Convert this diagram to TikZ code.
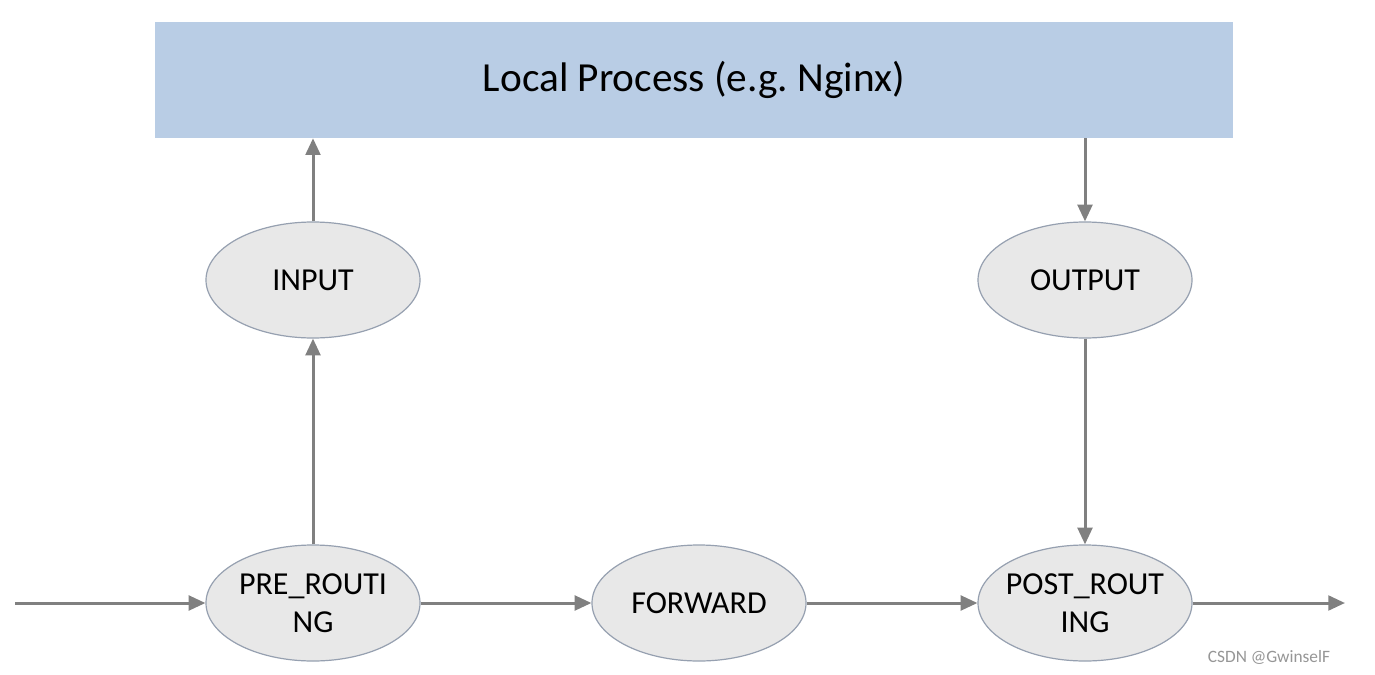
\documentclass[tikz,border=0pt]{standalone}
\usepackage{fontspec}
\setmainfont{Carlito}
\usetikzlibrary{arrows.meta,shapes.geometric}

\definecolor{boxblue}{RGB}{185,205,229}
\definecolor{chainfill}{RGB}{232,232,232}
\definecolor{chainedge}{RGB}{150,160,176}
\definecolor{flowgray}{RGB}{128,128,128}
\definecolor{markgray}{RGB}{150,150,150}

\tikzset{
  chain/.style={ellipse, draw=chainedge, line width=0.9pt, fill=chainfill,
    minimum width=160.5pt, minimum height=87pt, inner ysep=0pt, inner xsep=-6pt, align=center,
    font=\fontsize{24}{28.5}\selectfont},
  flow/.style={draw=flowgray, line width=2.25pt, -{Triangle[length=12.5pt,width=11pt]}},
}

\begin{document}
\begin{tikzpicture}[x=0.75pt,y=0.75pt,yscale=-1,xscale=1]
\useasboundingbox [fill=white] (0,0) rectangle (1375,675);

% Local process box
\node (proc) at (694,80) [fill=boxblue, minimum width=808.5pt, minimum height=87pt, inner sep=0pt,
  font=\fontsize{31}{37}\selectfont] {Local Process (e.g.\ Nginx)};

% Chains
\node (input) at (313,280) [chain] {INPUT};
\node (output) at (1085,280) [chain] {OUTPUT};
\node (pre) at (313,603) [chain] {PRE\_ROUTI\\NG};
\node (fwd) at (699,603) [chain] {FORWARD};
\node (post) at (1085,603) [chain] {POST\_ROUT\\ING};

% Free ends
\coordinate (start) at (15,603);
\coordinate (finish) at (1345,603);

% Arrows
\draw [flow] (start) -- (pre.west);
\draw [flow] (pre.east) -- (fwd.west);
\draw [flow] (fwd.east) -- (post.west);
\draw [flow] (post.east) -- (finish);
\draw [flow] (pre.north) -- (input.south);
\draw [flow] (input.north) -- (input.north |- proc.south);
\draw [flow] (output.north |- proc.south) -- (output.north);
\draw [flow] (output.south) -- (post.north);

% Text Node
\node (mark) at (1269,657) [text=markgray, font=\fontsize{13}{15}\selectfont] {CSDN @GwinselF};

\end{tikzpicture}
\end{document}
